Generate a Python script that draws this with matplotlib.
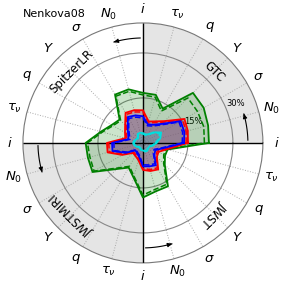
import numpy as np
import matplotlib.pyplot as plt

params = ["$i$", "$N_0$", "$\\sigma$", "$Y$", "$q$", "$\\tau_\\nu$"]
quadrants = ["GTC", "SpitzerLR", "JWSTMIRI", "JWST"]
rticks = [15, 30]
rtick_labels = ["15%", "30%"]

# order per quadrant: i, N0, sigma, Y, q, tau_nu (GTC, SpitzerLR, JWSTMIRI, JWST)
green_solid = [22.0, 22.5, 23.4, 23.6, 13.2, 16.6,
               16.7, 18.5, 18.6, 11.0, 12.0, 14.5,
               19.1, 19.0, 19.4, 12.3, 9.5, 12.0,
               18.2, 16.7, 16.7, 10.3, 8.5, 8.5]
green_dash = [20.5, 21.0, 21.0, 21.2, 12.3, 15.8,
              16.0, 17.8, 18.0, 10.5, 11.5, 14.0,
              18.5, 18.3, 18.8, 11.8, 9.0, 11.5,
              17.4, 16.0, 15.9, 9.8, 8.0, 8.0]
red_solid = [15.0, 15.5, 16.0, 10.3, 8.3, 7.4,
             10.9, 11.3, 11.6, 8.4, 6.9, 6.1,
             12.0, 12.2, 8.0, 4.7, 5.0, 5.9,
             9.0, 9.7, 10.2, 6.6, 6.0, 8.2]
red_dash = [14.4, 14.9, 15.3, 9.8, 7.8, 6.9,
            10.3, 10.7, 11.0, 7.9, 6.4, 5.6,
            11.4, 11.6, 7.5, 4.3, 4.6, 5.4,
            8.5, 9.2, 9.6, 6.1, 5.5, 7.7]
blue_solid = [13.7, 14.3, 14.5, 9.0, 7.0, 6.4,
              8.9, 9.5, 10.0, 7.2, 5.7, 5.0,
              10.3, 10.5, 6.6, 3.5, 4.0, 4.8,
              7.8, 8.1, 8.6, 5.4, 4.8, 6.9]
blue_dash = [13.1, 13.7, 13.9, 8.5, 6.5, 5.9,
             8.3, 8.9, 9.4, 6.7, 5.2, 4.5,
             9.7, 9.9, 6.1, 3.1, 3.6, 4.3,
             7.3, 7.6, 8.0, 4.9, 4.3, 6.4]
cyan_solid = [4.5, 6.0, 7.0, 5.0, 3.3, 3.0,
              3.3, 3.5, 3.5, 2.5, 2.5, 3.0,
              3.3, 3.0, 2.5, 2.0, 2.0, 2.5,
              2.5, 3.0, 3.0, 2.5, 2.5, 3.5]
cyan_dash = [4.1, 5.5, 6.4, 4.6, 3.0, 2.7,
             3.0, 3.2, 3.2, 2.2, 2.2, 2.7,
             3.0, 2.7, 2.2, 1.8, 1.8, 2.2,
             2.2, 2.7, 2.7, 2.2, 2.2, 3.2]

series = [(green_solid, green_dash, "green", "green", 0.2),
          (red_solid, red_dash, "red", "#a03c6e", 0.4),
          (blue_solid, blue_dash, "blue", "#5d5384", 0.3),
          (cyan_solid, cyan_dash, "#00dede", "#00dede", 0.15)]

n = len(params) * len(quadrants)
theta = np.arange(n) * 2 * np.pi / n
theta_c = np.append(theta, theta[0])
rmax = 40

fig = plt.figure(figsize=(2.87, 2.87), dpi=100)
ax = fig.add_axes([0.080, 0.084, 0.836, 0.836], projection="polar")
ax.set_ylim(0, rmax)

ax.bar([np.pi / 4, 5 * np.pi / 4], [rmax, rmax], width=np.pi / 2,
       color="#e5e5e5", edgecolor="none", zorder=0)

ax.set_xticks(theta)
ax.set_xticklabels([])
ax.xaxis.grid(True, color="#aaaaaa", ls=":", lw=0.7)
ax.set_rgrids(rticks, labels=rtick_labels, angle=22.5, fontsize=6)
ax.yaxis.grid(True, color="#888888", ls="-", lw=0.8)
ax.spines["polar"].set_color("#777777")
ax.spines["polar"].set_linewidth(0.8)

for solid, dash, col, fcol, a in series:
    s = np.append(solid, solid[0])
    d = np.append(dash, dash[0])
    ax.fill(theta_c, s, color=fcol, alpha=a, lw=0, zorder=2)
    ax.plot(theta_c, s, color=col, lw=1.3, zorder=4)
    ax.plot(theta_c, d, color=col, lw=1.1, ls="--", zorder=4)

ax.vlines(np.arange(4) * np.pi / 2, 0, rmax, color="black", lw=1.0, zorder=3)

for k, t in enumerate(theta):
    ax.text(t, 44.5, params[k % len(params)], fontsize=9.5,
            ha="center", va="center")

for q, name in enumerate(quadrants):
    ang = q * 90 + 45
    ax.text(np.radians(ang), 33.5, name, fontsize=8.5, rotation=ang - 90,
            ha="center", va="center", rotation_mode="anchor")
    arc = np.radians(np.linspace(q * 90 + 1.5, q * 90 + 16, 40))
    ax.plot(arc, np.full_like(arc, 35), color="black", lw=0.8, zorder=5)
    ax.annotate("", xy=(arc[-1], 35), xytext=(arc[-3], 35),
                arrowprops=dict(arrowstyle="-|>", color="black", lw=0.8,
                                mutation_scale=6), zorder=5)

fig.text(0.08, 0.95, "Nenkova08", fontsize=8, va="center")

fig.savefig("out.png", dpi=100)
